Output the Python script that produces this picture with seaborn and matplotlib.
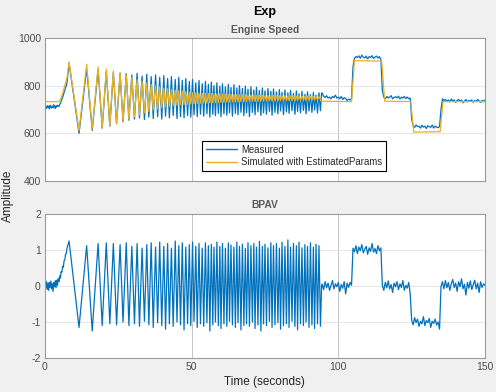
import numpy as np
import pandas as pd
import matplotlib
matplotlib.use("Agg")
import matplotlib.pyplot as plt
import seaborn as sns

# ============================================================
# 1. Data (times in seconds)
# ============================================================
# start, before the chirp (0.25 s spacing)
start_t = np.arange(0, 7.51, 0.25)
bpav_start = [0.20, -0.05, 0.12, -0.10, 0.08, -0.12, 0.10, -0.04, 0.14, -0.08,
              0.06, -0.15, 0.10, -0.02, 0.15, -0.05, 0.16, 0.02, 0.20, 0.12,
              0.28, 0.22, 0.40, 0.38, 0.55, 0.52, 0.70, 0.72, 0.88, 0.90, 1.05]
speed_meas_start = [700, 712, 705, 716, 708, 714, 702, 718, 710, 706,
                    715, 708, 720, 712, 704, 716, 710, 718, 715, 712,
                    720, 726, 735, 742, 752, 760, 772, 780, 792, 800, 812]
speed_sim_start = [733, 733, 733, 732, 733, 733, 733, 732, 733, 733,
                   733, 733, 733, 733, 733, 733, 733, 733, 734, 735,
                   738, 742, 750, 758, 768, 778, 790, 802, 812, 822, 832]

# chirp part: times of peaks and of the troughs that follow them
peak_t = [8.2, 14.2, 18.1, 20.9, 23.3, 25.6, 27.7, 29.6, 31.4, 33.1,
          34.7, 36.2, 37.7, 39.1, 40.5, 41.8, 43.1, 44.4, 45.6, 46.8,
          48.0, 49.2, 50.3, 51.4, 52.5, 53.6, 54.7, 55.7, 56.7, 57.6,
          58.6, 59.6, 60.5, 61.5, 62.5, 63.4, 64.4, 65.4, 66.3, 67.3,
          68.3, 69.2, 70.2, 71.2, 72.1, 73.1, 74.1, 75.0, 76.0, 77.0,
          77.9, 78.9, 79.9, 80.8, 81.8, 82.8, 83.7, 84.7, 85.7, 86.6,
          87.6, 88.6, 89.5, 90.5, 91.5, 92.4, 93.4]
trough_t = [11.6, 16.1, 19.5, 22.1, 24.4, 26.6, 28.6, 30.5, 32.2, 33.9,
            35.4, 36.9, 38.4, 39.8, 41.1, 42.4, 43.7, 45.0, 46.2, 47.4,
            48.6, 49.7, 50.8, 51.9, 53.0, 54.1, 55.2, 56.2, 57.2, 58.1,
            59.1, 60.0, 61.0, 62.0, 62.9, 63.9, 64.9, 65.8, 66.8, 67.8,
            68.7, 69.7, 70.7, 71.6, 72.6, 73.6, 74.5, 75.5, 76.5, 77.4,
            78.4, 79.4, 80.3, 81.3, 82.3, 83.2, 84.2, 85.2, 86.1, 87.1,
            88.1, 89.0, 90.0, 91.0, 91.9, 92.9, 93.9]

bpav_peak = [1.25, 1.12, 1.18, 1.20, 1.18, 1.15, 1.20, 1.10, 1.18, 1.05,
             1.15, 1.20, 1.08, 1.22, 1.10, 1.18, 1.05, 1.25, 1.12, 1.20,
             1.08, 1.15, 1.22, 1.10, 1.18, 1.05, 1.20, 1.12, 1.16, 1.08,
             1.22, 1.10, 1.18, 1.05, 1.20, 1.14, 1.08, 1.22, 1.10, 1.16,
             1.04, 1.20, 1.12, 1.18, 1.08, 1.24, 1.10, 1.16, 1.06, 1.20,
             1.12, 1.18, 1.05, 1.22, 1.10, 1.28, 1.08, 1.18, 1.12, 1.22,
             1.06, 1.15, 1.10, 1.20, 1.08, 1.16, 1.12]
bpav_trough = [-1.15, -1.25, -1.10, -1.05, -1.08, -1.00, -1.10, -1.05, -1.12, -0.98,
               -1.08, -1.15, -1.02, -1.10, -1.20, -1.05, -1.12, -1.00, -1.08, -1.22,
               -1.05, -1.10, -0.98, -1.15, -1.05, -1.12, -1.02, -1.25, -1.08, -1.00,
               -1.10, -1.18, -1.05, -1.12, -0.98, -1.08, -1.15, -1.02, -1.22, -1.10,
               -1.05, -1.12, -1.00, -1.18, -1.08, -1.25, -1.05, -1.10, -0.98, -1.15,
               -1.08, -1.02, -1.20, -1.10, -1.05, -1.15, -0.98, -1.12, -1.22, -1.05,
               -1.10, -1.00, -1.15, -1.08, -1.18, -1.05, -1.12]

speed_meas_peak = [895, 872, 868, 860, 856, 852, 850, 845, 852, 840,
                   848, 838, 845, 835, 842, 830, 838, 826, 835, 822,
                   830, 818, 826, 812, 822, 808, 818, 805, 815, 800,
                   812, 798, 808, 795, 806, 792, 804, 790, 800, 788,
                   798, 785, 795, 782, 793, 780, 790, 778, 788, 776,
                   786, 774, 784, 772, 782, 770, 780, 768, 778, 766,
                   776, 764, 774, 762, 772, 760, 770]
speed_meas_trough = [600, 612, 622, 630, 640, 648, 655, 660, 665, 658,
                     668, 662, 670, 660, 672, 665, 675, 662, 670, 665,
                     675, 668, 678, 670, 680, 672, 682, 668, 680, 674,
                     684, 670, 682, 676, 686, 672, 684, 678, 688, 674,
                     686, 670, 688, 678, 690, 675, 686, 680, 692, 676,
                     688, 682, 694, 678, 690, 684, 695, 680, 692, 686,
                     696, 682, 694, 688, 698, 685, 695]

speed_sim_peak = [900, 890, 880, 870, 862, 855, 845, 835, 825, 818,
                  812, 805, 800, 795, 790, 787, 784, 781, 779, 777,
                  775, 773, 771, 770, 769, 768, 768, 767, 767, 766,
                  766, 766, 765, 765, 764, 764, 763, 763, 762, 762,
                  762, 761, 761, 761, 760, 760, 760, 759, 759, 759,
                  759, 758, 758, 758, 758, 757, 757, 757, 756, 756,
                  756, 756, 755, 755, 755, 755, 754]
speed_sim_trough = [612, 618, 625, 632, 640, 650, 660, 670, 678, 686,
                    692, 698, 703, 707, 711, 714, 716, 718, 720, 721,
                    722, 723, 724, 725, 726, 727, 727, 728, 728, 729,
                    729, 730, 730, 731, 731, 732, 732, 732, 733, 733,
                    733, 734, 734, 734, 735, 735, 735, 736, 736, 736,
                    736, 737, 737, 737, 737, 738, 738, 738, 738, 739,
                    739, 739, 739, 740, 740, 740, 740]

# end of the chirp
chirp_end_t = 94.3
bpav_end = 0.0
speed_meas_end = 770

# step part (0.5 s spacing)
step_t = np.arange(94.5, 150.01, 0.5)
bpav_step = [0.05, -0.10, 0.12, -0.05, 0.08, -0.12, 0.02, 0.15, -0.08, 0.06,
             -0.02, 0.10, -0.15, 0.04, -0.06, 0.12, -0.22, 0.08, -0.04, 0.10, 0.02,
             1.05, 0.95, 1.12, 0.90, 1.08, 0.98, 1.15, 0.92, 1.02, 1.10,
             0.88, 1.06, 0.96, 1.18, 0.94, 1.04, 0.90, 1.12, 0.98, 1.06,
             0.02, -0.12, 0.10, -0.05, 0.14, -0.08, 0.04, -0.18, 0.08, -0.02,
             0.12, -0.10, 0.06, -0.04, 0.15, -0.12, 0.02, -0.06, 0.10, -0.22,
             -0.95, -1.08, -0.88, -1.02, -0.92, -1.12, -0.98, -1.05, -0.85, -1.10,
             -0.96, -1.02, -0.90, -1.15, -0.98, -1.04, -0.92, -1.08, -1.00, -1.20,
             -0.02, 0.12, -0.08, 0.15, -0.05, 0.10, -0.12, 0.06, 0.18, -0.04,
             0.08, -0.15, 0.12, -0.02, 0.20, -0.08, 0.05, -0.25, 0.10, -0.06,
             0.14, -0.10, 0.04, 0.16, -0.08, 0.08, -0.18, 0.12, -0.04, 0.06, 0.02]
speed_meas_step = [768, 755, 750, 758, 748, 752, 745, 755, 750, 760,
                   748, 752, 745, 755, 742, 750, 746, 738, 744, 740, 745,
                   880, 915, 922, 918, 925, 915, 928, 920, 916, 924,
                   912, 922, 918, 926, 914, 920, 924, 916, 922, 910,
                   780, 752, 745, 755, 748, 752, 758, 745, 750, 754,
                   748, 756, 744, 752, 748, 755, 746, 752, 745, 748,
                   660, 632, 625, 635, 628, 630, 622, 634, 626, 630,
                   620, 632, 628, 625, 635, 622, 630, 626, 624, 628,
                   700, 745, 738, 742, 735, 740, 732, 744, 736, 740,
                   730, 738, 742, 734, 740, 728, 736, 742, 732, 738,
                   735, 740, 730, 738, 734, 742, 736, 730, 738, 734, 740]
sim_step_t = [94.3, 104.5, 105.5, 114.8, 115.8, 124.7, 125.7, 134.7, 135.7, 150.0]
sim_step_v = [735, 733, 905, 903, 735, 733, 605, 607, 733, 733]

# ============================================================
# 2. Assemble the series
# ============================================================
def interleave(a, b):
    return np.column_stack([a, b]).ravel()

chirp_t = interleave(peak_t, trough_t)
t_meas = np.concatenate([start_t, chirp_t, [chirp_end_t], step_t])
bpav = np.concatenate([bpav_start, interleave(bpav_peak, bpav_trough), [bpav_end], bpav_step])
speed_meas = np.concatenate([speed_meas_start, interleave(speed_meas_peak, speed_meas_trough),
                             [speed_meas_end], speed_meas_step])
t_sim = np.concatenate([start_t, chirp_t, sim_step_t])
speed_sim = np.concatenate([speed_sim_start, interleave(speed_sim_peak, speed_sim_trough), sim_step_v])

df_meas = pd.DataFrame({"time": t_meas, "speed": speed_meas, "bpav": bpav})
df_sim = pd.DataFrame({"time": t_sim, "speed": speed_sim})

# ============================================================
# 3. Plot
# ============================================================
sns.set_style("white")
plt.rcParams["font.family"] = ["Liberation Sans", "DejaVu Sans"]
plt.rcParams["axes.unicode_minus"] = False

blue = "#0072BD"
yellow = "#EDB120"
tick_col = "#4d4d4d"

fig = plt.figure(figsize=(4.96, 3.92), dpi=100)
fig.patch.set_facecolor("#f0f0f0")
ax1 = fig.add_axes([45 / 496, 1 - 181 / 392, 440 / 496, 143 / 392])
ax2 = fig.add_axes([45 / 496, 1 - 358 / 392, 440 / 496, 144 / 392])

sns.lineplot(data=df_meas, x="time", y="speed", ax=ax1, color=blue, linewidth=0.9,
             estimator=None, sort=False, label="Measured")
sns.lineplot(data=df_sim, x="time", y="speed", ax=ax1, color=yellow, linewidth=0.9,
             estimator=None, sort=False, label="Simulated with EstimatedParams")
sns.lineplot(data=df_meas, x="time", y="bpav", ax=ax2, color=blue, linewidth=0.9,
             estimator=None, sort=False, legend=False)

ax1.set_ylim(400, 1000)
ax1.set_yticks([400, 600, 800, 1000])
ax2.set_ylim(-2, 2)
ax2.set_yticks([-2, -1, 0, 1, 2])

for ax in (ax1, ax2):
    ax.set_facecolor("white")
    ax.set_xlim(0, 150)
    ax.set_xticks([0, 50, 100, 150])
    ax.set_xlabel("")
    ax.set_ylabel("")
    ax.xaxis.grid(True, color="#c4c4c4", linewidth=0.7)
    ax.yaxis.grid(True, color="#e6e6e6", linewidth=0.7)
    ax.set_axisbelow(True)
    ax.tick_params(direction="in", length=3, width=0.6, colors="#555555",
                   labelcolor=tick_col, labelsize=7.5, pad=3)
    for s in ax.spines.values():
        s.set_color("#9a9a9a")
        s.set_linewidth(0.8)

ax1.tick_params(labelbottom=False)

ax1.text(0.5, 1 + 8 / 143, "Engine Speed", transform=ax1.transAxes, ha="center",
         va="center", fontsize=7.4, fontweight="bold", color="#5a5a5a")
ax2.text(0.5, 1 + 9 / 144, "BPAV", transform=ax2.transAxes, ha="center",
         va="center", fontsize=7.4, fontweight="bold", color="#5a5a5a")
fig.text(265 / 496, 1 - 12 / 392, "Exp", ha="center", va="center",
         fontsize=9, fontweight="bold", color="black")
fig.text(8 / 496, 1 - 196 / 392, "Amplitude", ha="center", va="center",
         rotation=90, fontsize=8.5, color="#262626")
fig.text(264 / 496, 1 - 382 / 392, "Time (seconds)", ha="center", va="center",
         fontsize=8.5, color="#262626")

leg = ax1.legend(loc="upper left", bbox_to_anchor=(157 / 440, 40 / 143), borderaxespad=0,
                 fontsize=6.9, frameon=True, fancybox=False, framealpha=1,
                 edgecolor="black", handlelength=3.3, handletextpad=0.4,
                 labelspacing=0.25, borderpad=0.4)
leg.get_frame().set_linewidth(0.8)
for line in leg.get_lines():
    line.set_linewidth(1.0)

fig.savefig("out.png", dpi=100, facecolor=fig.get_facecolor())
